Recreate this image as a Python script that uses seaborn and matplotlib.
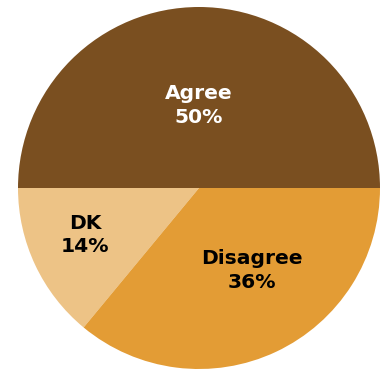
import numpy as np
import matplotlib
matplotlib.use("Agg")
import matplotlib.pyplot as plt
import seaborn as sns

sns.set_style("white")
plt.rcParams['font.family'] = ['DejaVu Sans']

categories = ["Agree", "DK", "Disagree"]
values = [50, 14, 36]
colors = ["#7a4f20", "#edc386", "#e39c35"]
text_colors = ["white", "black", "black"]
label_pos = [(0.0, 0.455), (-0.63, -0.26), (0.29, -0.455)]

fig = plt.figure(figsize=(3.81, 3.71), dpi=100)
ax = fig.add_axes([0, 0, 1, 1])
wedges, _ = ax.pie(values, colors=colors, startangle=0, counterclock=True,
                   radius=1.0, wedgeprops=dict(linewidth=0))
for w, cat, v, tc, (lx, ly) in zip(wedges, categories, values, text_colors, label_pos):
    ax.text(lx, ly, f"{cat}\n{v}%", ha="center", va="center", color=tc,
            fontsize=14.6, fontweight="bold", linespacing=1.3)

ax.set_xlim(-199/181, 182/181)
ax.set_ylim(-183/181, 188/181)
ax.set_aspect("auto")
ax.axis("off")
fig.savefig("out.png", dpi=100)
